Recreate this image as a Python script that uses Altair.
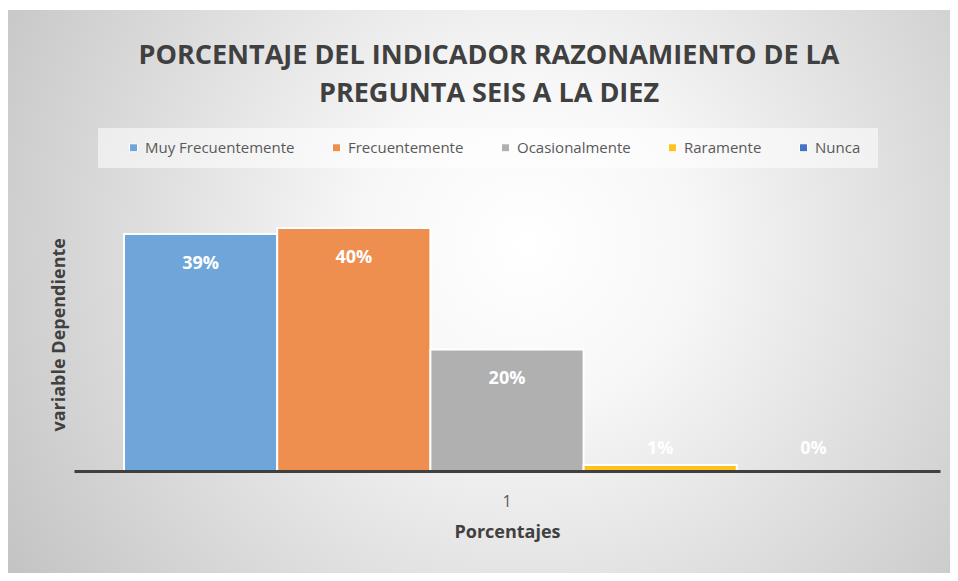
import altair as alt
import pandas as pd

categories = ["1"]
series = ["Muy Frecuentemente", "Frecuentemente", "Ocasionalmente", "Raramente", "Nunca"]
values = [39, 40, 20, 1, 0]
labels = ["39%", "40%", "20%", "1%", "0%"]
colors = ["#6FA6DA", "#EE8F50", "#B0B0B0", "#FFC21A", "#4472C4"]

W, H = 866, 273.4
PL, PT = 66, 189.6
TOTW, TOTH = 942, 565

df = pd.DataFrame({
    "cat": categories * len(series),
    "serie": series,
    "valor": values,
    "etiqueta": labels,
})

FONT = "Open Sans"

bg = alt.Chart(pd.DataFrame({"a": [0]})).mark_rect(
    color={
        "gradient": "radial",
        "stops": [
            {"offset": 0, "color": "#ffffff"},
            {"offset": 0.25, "color": "#f7f7f7"},
            {"offset": 1, "color": "#bebebe"},
        ],
        "x1": 0.55, "y1": 0.45, "x2": 0.55, "y2": 0.45, "r1": 0, "r2": 0.7,
    }
).encode(
    x=alt.value(-PL), x2=alt.value(TOTW - PL),
    y=alt.value(-PT + 2), y2=alt.value(TOTH - PT),
)

legbox = alt.Chart(pd.DataFrame({"a": [0]})).mark_rect(
    color="white", opacity=0.55
).encode(
    x=alt.value(24), x2=alt.value(804),
    y=alt.value(-69.6), y2=alt.value(-29.6),
)

base = alt.Chart(df).encode(
    x=alt.X(
        "cat:N",
        scale=alt.Scale(paddingOuter=0.0653, paddingInner=0),
        axis=alt.Axis(
            title="Porcentajes", titleFont=FONT, titleFontSize=18, titleFontWeight="bold",
            titleColor="#404040", titlePadding=14,
            labelFont=FONT, labelFontSize=16, labelColor="#595959", labelAngle=0,
            labelPadding=22, ticks=False, domainColor="#404040", domainWidth=3, zindex=2,
        ),
    ),
    xOffset=alt.XOffset("serie:N", sort=series, scale=alt.Scale(paddingInner=0, paddingOuter=0)),
)

bars = base.mark_bar(stroke="white", strokeWidth=2).encode(
    y=alt.Y(
        "valor:Q",
        scale=alt.Scale(domain=[0, 45], nice=False),
        axis=alt.Axis(
            title="variable Dependiente", titleFont=FONT, titleFontSize=18, titleFontWeight="bold",
            titleColor="#404040", titlePadding=6,
            labels=False, ticks=False, domain=False, grid=False, zindex=2,
        ),
    ),
    color=alt.Color(
        "serie:N", sort=series,
        scale=alt.Scale(domain=series, range=colors),
        legend=alt.Legend(
            orient="none", legendX=52, legendY=-57.6, direction="horizontal", title=None,
            padding=0, columnPadding=34, labelFont=FONT, labelFontSize=15, labelColor="#595959",
            symbolType="square", symbolSize=64, symbolStrokeColor="white", symbolStrokeWidth=1,
            labelOffset=4, zindex=2,
        ),
    ),
)

text = base.transform_calculate(
    pos="max(datum.valor, 8.5)"
).mark_text(
    color="white", font=FONT, fontSize=18, fontWeight="bold", dy=30, baseline="middle"
).encode(
    y=alt.Y("pos:Q"),
    text="etiqueta:N",
)

chart = alt.layer(bg, legbox, bars, text).properties(
    width=W, height=H,
    autosize=alt.AutoSizeParams(type="none"),
    padding={"left": PL, "top": PT, "right": TOTW - PL - W, "bottom": TOTH - PT - H},
    background="white",
    title=alt.TitleParams(
        ["PORCENTAJE DEL INDICADOR RAZONAMIENTO DE LA", "PREGUNTA SEIS A LA DIEZ"],
        font=FONT, fontSize=27, fontWeight="bold", color="#404040",
        lineHeight=38, anchor="middle", frame="group", offset=-98, dx=-18,
    ),
).configure_view(stroke=None)

chart.save("out.html", embed_options={"renderer": "svg", "actions": False})
